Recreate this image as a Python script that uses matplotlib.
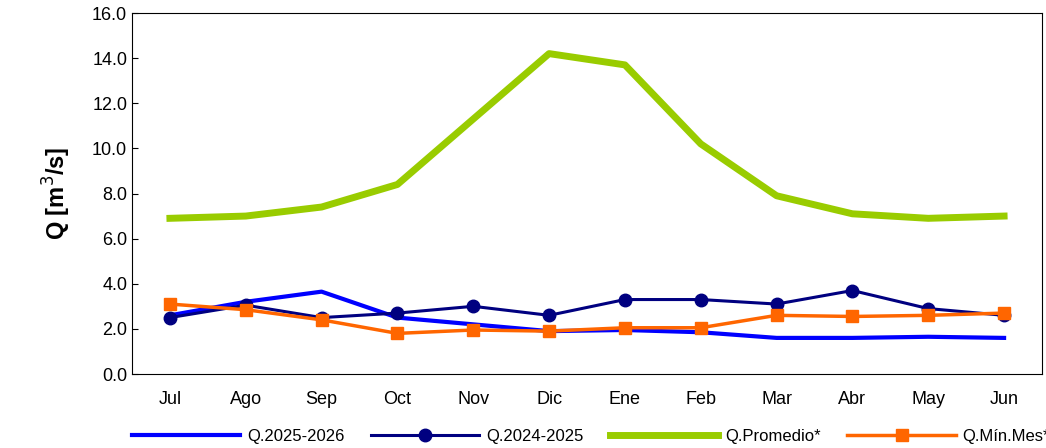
import matplotlib.pyplot as plt

months = ['Jul', 'Ago', 'Sep', 'Oct', 'Nov', 'Dic', 'Ene', 'Feb', 'Mar', 'Abr', 'May', 'Jun']
q_2025_2026 = [2.6, 3.2, 3.65, 2.5, 2.2, 1.9, 1.95, 1.85, 1.6, 1.6, 1.65, 1.6]
q_2024_2025 = [2.5, 3.05, 2.5, 2.7, 3.0, 2.6, 3.3, 3.3, 3.1, 3.7, 2.9, 2.6]
q_promedio = [6.9, 7.0, 7.4, 8.4, 11.3, 14.2, 13.7, 10.2, 7.9, 7.1, 6.9, 7.0]
q_min_mes = [3.1, 2.85, 2.4, 1.8, 1.95, 1.9, 2.05, 2.05, 2.6, 2.55, 2.6, 2.7]

plt.rcParams['font.family'] = ['Liberation Sans', 'DejaVu Sans']
fig = plt.figure(figsize=(10.46, 4.48), dpi=100)
ax = fig.add_axes([132 / 1046, 1 - 374 / 448, 910 / 1046, 361 / 448])
x = range(len(months))

ax.plot(x, q_2025_2026, color='#0000ff', lw=3, label='Q.2025-2026')
ax.plot(x, q_2024_2025, color='#000080', lw=2.2, marker='o', ms=9, label='Q.2024-2025')
ax.plot(x, q_promedio, color='#99cc00', lw=5, label='Q.Promedio*')
ax.plot(x, q_min_mes, color='#ff6600', lw=2.5, marker='s', ms=8, label='Q.Mín.Mes*')

ax.set_xlim(-0.5, 11.5)
ax.set_ylim(0, 16)
ax.set_yticks([i * 2.0 for i in range(9)])
ax.set_yticklabels([f'{i * 2.0:.1f}' for i in range(9)], fontsize=13)
ax.set_xticks(list(x))
ax.set_xticklabels(months, fontsize=13)
ax.tick_params(axis='x', length=0, pad=12)
ax.tick_params(axis='y', direction='in', length=4)
ax.set_ylabel('Q [m$^3$/s]', fontsize=17, fontweight='bold', labelpad=14)

fig.legend(loc='lower center', ncol=4, frameon=False, fontsize=12,
           bbox_to_anchor=(0.565, -0.025), columnspacing=1.6, handlelength=6.5,
           handletextpad=0.4)

fig.savefig('out.png', dpi=100)
